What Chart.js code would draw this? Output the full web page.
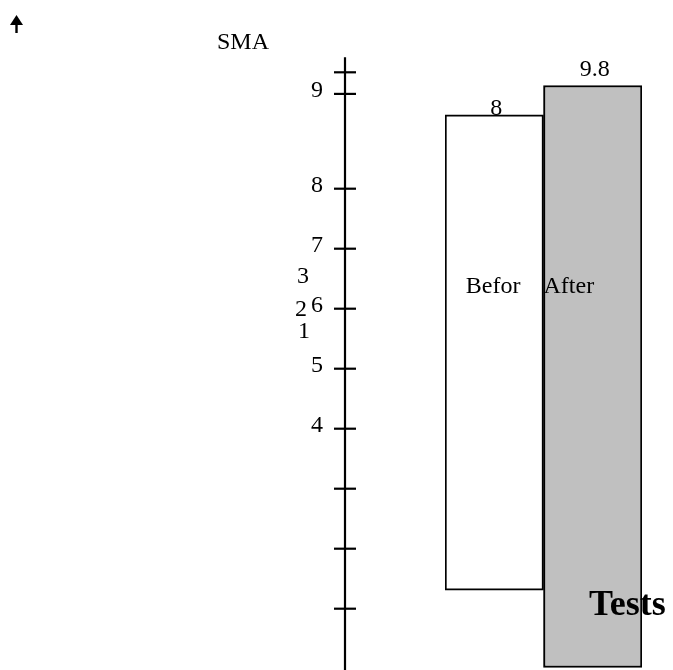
<!DOCTYPE html>
<html>
<head>
<meta charset="utf-8">
<script src="https://cdn.jsdelivr.net/npm/chart.js@4.4.1/dist/chart.umd.min.js"></script>
<style>
  html, body { margin: 0; padding: 0; background: #fff; }
  #wrap { width: 673px; height: 670px; position: relative; }
</style>
</head>
<body>
<div id="wrap"><canvas id="chart" width="673" height="670"></canvas></div>
<script>
// values
const categories = ['Befor', 'After']
const barLabels = ['8', '9.8']
const barStart = [1.31, 0.02]
const barEnd = [9.23, 9.72]
const barColors = ['#ffffff', '#c0c0c0']

// axis ticks (the labelled ones do not sit evenly)
const tickValues = [1, 2, 3, 4, 5, 6, 7, 8, 9.58, 9.94]
const tickLabels = ['', '', '', '4', '5', '6', '7', '8', '9', '']
const strayLabels = ['1', '2', '3']

const SERIF = '"Liberation Serif", "Times New Roman", serif'
const AXIS_X = 345

const decorations = {
  id: 'decorations',
  afterDatasetsDraw(chart) {
    const ctx = chart.ctx
    const y = chart.scales.y
    const area = chart.chartArea
    ctx.save()

    // vertical axis with ticks crossing it
    ctx.strokeStyle = '#000'
    ctx.lineWidth = 2.2
    ctx.beginPath()
    ctx.moveTo(AXIS_X, area.top)
    ctx.lineTo(AXIS_X, chart.height)
    ctx.stroke()
    ctx.font = '24px ' + SERIF
    ctx.fillStyle = '#000'
    ctx.textAlign = 'right'
    ctx.textBaseline = 'middle'
    tickValues.forEach((v, i) => {
      const py = y.getPixelForValue(v)
      ctx.beginPath()
      ctx.moveTo(AXIS_X - 11, py)
      ctx.lineTo(AXIS_X + 11, py)
      ctx.stroke()
      if (tickLabels[i]) ctx.fillText(tickLabels[i], AXIS_X - 22, py - 3)
    })

    // stray labels left of the axis
    ctx.textAlign = 'left'
    ctx.textBaseline = 'alphabetic'
    ctx.fillText(strayLabels[2], 297, 283)
    ctx.fillText(strayLabels[1], 295, 316)
    ctx.fillText(strayLabels[0], 298, 338)

    // value labels over the bars
    const meta = chart.getDatasetMeta(0)
    ctx.textAlign = 'center'
    meta.data.forEach((bar, i) => {
      const off = i === 0 ? 0 : 10
      ctx.fillText(barLabels[i], bar.x + 2, bar.y - off)
    })

    // category names inside the bars
    const edge = (meta.data[0].x + meta.data[1].x) / 2
    ctx.textAlign = 'right'
    ctx.fillText(categories[0], edge - 23, 293)
    ctx.textAlign = 'left'
    ctx.fillText(categories[1], edge, 293)

    // titles
    ctx.fillText('SMA', 217, 49)
    ctx.font = 'bold 36px ' + SERIF
    ctx.fillText('Tests', 589, 615)

    // small arrow top left
    ctx.beginPath()
    ctx.moveTo(16.5, 15)
    ctx.lineTo(23, 25)
    ctx.lineTo(10, 25)
    ctx.closePath()
    ctx.fill()
    ctx.fillRect(15.3, 24, 2.4, 9)
    ctx.restore()
  }
}

new Chart(document.getElementById('chart'), {
  type: 'bar',
  data: {
    labels: categories,
    datasets: [{
      data: barStart.map((s, i) => [s, barEnd[i]]),
      backgroundColor: barColors,
      borderColor: '#000',
      borderWidth: 2,
      borderSkipped: false,
      barPercentage: 1,
      categoryPercentage: 1
    }]
  },
  options: {
    responsive: false,
    animation: false,
    layout: { padding: { left: 445, right: 31, top: 57.3, bottom: 1.3 } },
    plugins: { legend: { display: false }, tooltip: { enabled: false } },
    scales: {
      x: { display: false },
      y: { display: false, min: 0, max: 10.19 }
    }
  },
  plugins: [decorations]
})
</script>
</body>
</html>
